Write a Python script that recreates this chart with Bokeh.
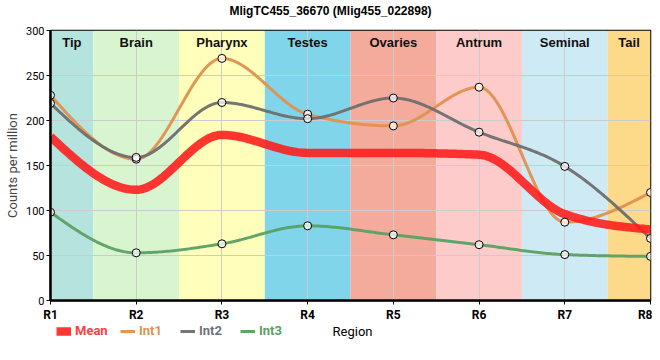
import numpy as np
from bokeh.plotting import figure
from bokeh.layouts import column
from bokeh.models import (ColumnDataSource, FixedTicker, Legend, LegendItem, Range1d, Label)
from bokeh.core.properties import value
from bokeh.embed import file_html
from bokeh.resources import INLINE

# ---- data ----
regions = ["R1", "R2", "R3", "R4", "R5", "R6", "R7", "R8"]
tissues = ["Tip", "Brain", "Pharynx", "Testes", "Ovaries", "Antrum", "Seminal", "Tail"]
tissue_colors = ["#b5e3dd", "#d9f5d0", "#ffffbb", "#80d5ea", "#f4ab9c", "#fecbcb", "#ceeaf4", "#fdda8a"]
mean_vals = [182, 123, 184, 164, 164, 162, 96, 79]
int1 = [228, 157, 269, 207, 194, 237, 87, 120]
int2 = [219, 159, 220, 202, 225, 187, 149, 69]
int3 = [98, 53, 63, 83, 73, 62, 51, 49]
y_ticks = [0, 50, 100, 150, 200, 250, 300]

xs = np.arange(1, len(regions) + 1, dtype=float)


def monotone(x, y, n=40):
    x = np.asarray(x, float)
    y = np.asarray(y, float)
    m = len(x)
    h = np.diff(x)
    s = np.diff(y) / h
    sg = lambda v: -1.0 if v < 0 else 1.0
    t = np.zeros(m)
    for i in range(1, m - 1):
        h0, h1, s0, s1 = h[i - 1], h[i], s[i - 1], s[i]
        p_ = (s0 * h1 + s1 * h0) / (h0 + h1)
        t[i] = (sg(s0) + sg(s1)) * min(abs(s0), abs(s1), 0.5 * abs(p_))
    t[0] = (3 * s[0] - t[1]) / 2
    t[-1] = (3 * s[-1] - t[-2]) / 2
    ox, oy = [], []
    for i in range(m - 1):
        u = np.linspace(0, 1, n, endpoint=(i == m - 2))
        h00 = 2 * u**3 - 3 * u**2 + 1
        h10 = u**3 - 2 * u**2 + u
        h01 = -2 * u**3 + 3 * u**2
        h11 = u**3 - u**2
        ox.extend(x[i] + u * h[i])
        oy.extend(h00 * y[i] + h10 * h[i] * t[i] + h01 * y[i + 1] + h11 * h[i] * t[i + 1])
    return ox, oy


FONT = "Liberation Sans"
W = 652
FRAME_LEFT = 50


def strip(height):
    f = figure(width=W, height=height, output_backend="svg", toolbar_location=None,
               x_range=Range1d(0, W), y_range=Range1d(0, height),
               x_axis_location=None, y_axis_location=None,
               min_border=0, min_border_left=0, min_border_right=0,
               min_border_top=0, min_border_bottom=0)
    f.grid.visible = False
    f.outline_line_color = None
    return f


# header with the chart title
hdr = strip(22)
hdr.add_layout(Label(x=330 - FRAME_LEFT, y=12, x_units="screen", y_units="screen",
                     text="MligTC455_36670 (Mlig455_022898)", text_align="center",
                     text_baseline="middle", text_font=FONT, text_font_size="12px",
                     text_font_style="bold", text_color="black"))

p = figure(width=W, height=302, output_backend="svg", toolbar_location=None,
           x_range=Range1d(1, 8), y_range=Range1d(0, 300),
           min_border_left=FRAME_LEFT, min_border_right=2, min_border_top=8, min_border_bottom=24)

# bands
left = [max(x - 0.5, 1) for x in xs]
right = [min(x + 0.5, 8) for x in xs]
band_src = ColumnDataSource(dict(left=left, right=right, color=tissue_colors,
                                 name=tissues, cx=[(a + b) / 2 for a, b in zip(left, right)],
                                 top=[300] * len(xs), bottom=[0] * len(xs)))
br = p.quad(left="left", right="right", top="top", bottom="bottom", fill_color="color",
            line_color=None, source=band_src)
br.level = "image"
p.text(x="cx", y="top", text="name", source=band_src, text_align="center", text_baseline="top",
       y_offset=4, text_font=value(FONT), text_font_size="13px", text_font_style="bold",
       text_color="#111111")

# lines
series = [("Int1", int1, "#e0904f"), ("Int2", int2, "#6e6e6e"), ("Int3", int3, "#5aa064")]
styles = {"Mean": ("#ff1a1a", 8.5, 0.88)}
for name, vals, col in series:
    cx, cy = monotone(xs, vals)
    p.line(cx, cy, line_color=col, line_width=3, line_alpha=0.95)
    styles[name] = (col, 3, 0.95)
mx, my = monotone(xs, mean_vals)
p.line(mx, my, line_color=styles["Mean"][0], line_width=styles["Mean"][1], line_alpha=styles["Mean"][2])
for name, vals, col in series:
    p.scatter(xs, vals, size=8, fill_color="white", fill_alpha=0.75, line_color="black", line_width=1)

# axes
p.xaxis.ticker = FixedTicker(ticks=list(xs))
p.xaxis.major_label_overrides = {int(x): r for x, r in zip(xs, regions)}
p.yaxis.ticker = FixedTicker(ticks=y_ticks)
for ax in (p.xaxis[0], p.yaxis[0]):
    ax.axis_line_color = "black"
    ax.axis_line_width = 2.5
    ax.major_tick_line_color = "black"
    ax.major_tick_out = 4
    ax.major_tick_in = 0
    ax.minor_tick_line_color = None
    ax.major_label_text_font = "Roboto"
    ax.major_label_text_font_size = "12px"
    ax.major_label_text_color = "black"
    ax.axis_label_text_font = "Roboto"
    ax.axis_label_text_font_size = "13px"
    ax.axis_label_text_font_style = "normal"
p.xaxis.major_label_text_font_style = "bold"
p.yaxis.major_label_text_font_size = "11px"
p.yaxis.major_label_standoff = 2
p.xaxis.major_label_standoff = 3
p.yaxis.axis_label = "Counts per million"
p.yaxis.axis_label_standoff = 3

p.xgrid.grid_line_color = "#cccccc"
p.ygrid.grid_line_color = "#cccccc"
p.outline_line_color = "black"
p.outline_line_width = 1.5
p.outline_line_alpha = 1
p.background_fill_color = "white"

# legend row with the x-axis title
q = strip(28)
legend_spec = [("Mean", "#ff4040", 6), ("Int1", "#e0904f", 70), ("Int2", "#707080", 130), ("Int3", "#5aa064", 190)]
for name, tcol, lx in legend_spec:
    col, lw, la = styles[name]
    dummy = q.line([-100, -90], [-100, -100], line_color=col, line_width=lw, line_alpha=la)
    lg = Legend(items=[LegendItem(label=name, renderers=[dummy])],
                location=(lx, 14), orientation="horizontal",
                glyph_width=15, glyph_height=10, label_standoff=4, padding=0, margin=0,
                spacing=0, border_line_color=None, background_fill_alpha=0,
                label_text_color=tcol, label_text_font="Roboto", label_text_font_size="13px",
                label_text_font_style="bold", label_height=14)
    q.add_layout(lg, "center")

q.add_layout(Label(x=352 - FRAME_LEFT, y=21, x_units="screen", y_units="screen", text="Region",
                   text_align="center", text_baseline="middle", text_font="Roboto",
                   text_font_size="13px", text_color="black"))

layout = column(hdr, p, q, spacing=0)
open("out.html", "w").write(file_html(layout, INLINE))
